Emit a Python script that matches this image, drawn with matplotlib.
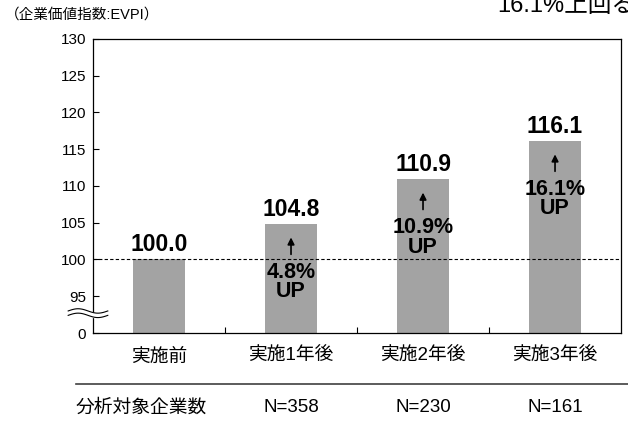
import numpy as np
import matplotlib
matplotlib.use("Agg")
import matplotlib.pyplot as plt
from matplotlib.lines import Line2D
from matplotlib.transforms import blended_transform_factory

plt.rcParams['font.family'] = ['Liberation Sans', 'Noto Sans CJK JP', 'DejaVu Sans']

# EVPI before and after implementation
periods = ['実施前', '実施1年後', '実施2年後', '実施3年後']
evpi = [100.0, 104.8, 110.9, 116.1]
rise = [None, '4.8%', '10.9%', '16.1%']
n_firms = ['N=358', 'N=230', 'N=161']
yticks = [90, 95, 100, 105, 110, 115, 120, 125, 130]
ytick_labels = ['0', '95', '100', '105', '110', '115', '120', '125', '130']

fig = plt.figure(figsize=(6.28, 4.22), dpi=100)
ax = fig.add_axes([0.1481, 0.2109, 0.8408, 0.6967])

x = np.arange(len(periods)) + 0.5
ax.bar(x, [v - 90 for v in evpi], bottom=90, width=0.4, color='#a3a3a3', zorder=2)
ax.axhline(100, color='black', lw=0.8, ls=(0, (3, 2)), zorder=3)

ax.set_xlim(0, 4)
ax.set_ylim(90, 130)
ax.set_yticks(yticks)
ax.set_yticklabels(ytick_labels, fontsize=11)
ax.tick_params(axis='y', direction='in', length=4, width=0.8, pad=5)
ax.set_xticks(x)
ax.set_xticklabels(periods, fontsize=13.5)
ax.tick_params(axis='x', length=0, pad=11)
ax.set_xticks([1, 2, 3], minor=True)
ax.tick_params(axis='x', which='minor', direction='in', length=4, width=0.8)
for s in ax.spines.values():
    s.set_linewidth(0.9)

for xi, v, r in zip(x, evpi, rise):
    ax.text(xi, v + 1.1, f'{v:.1f}', ha='center', va='baseline',
            fontsize=16.5, fontweight='bold', zorder=4)
    if r is None:
        continue
    ax.annotate('', xy=(xi, v - 1.8), xytext=(xi, v - 4.1),
                arrowprops=dict(arrowstyle='-|>', color='black', lw=1.2,
                                mutation_scale=10, shrinkA=0, shrinkB=0),
                zorder=4)
    ax.text(xi, v - 5.1, f'{r}\nUP', ha='center', va='top', fontsize=15.5,
            fontweight='bold', linespacing=0.92, zorder=4)

# axis break mark on the y axis
bt = blended_transform_factory(ax.transAxes, ax.transData)
wx = np.linspace(-0.047, 0.028, 60)
wave = 0.3 * np.sin(2 * np.pi * (wx - wx[0]) / (wx[-1] - wx[0]))
ax.fill_between(wx, 92.4 + wave, 93.0 + wave, color='white', transform=bt,
                clip_on=False, zorder=5)
ax.plot(wx, 92.4 + wave, color='black', lw=0.8, transform=bt, clip_on=False, zorder=6)
ax.plot(wx, 93.0 + wave, color='black', lw=0.8, transform=bt, clip_on=False, zorder=6)

# number of companies row
fig.add_artist(Line2D([76 / 628, 1.0], [1 - 384 / 422, 1 - 384 / 422],
                      color='#404040', lw=1.2))
fig.text(76 / 628, 1 - 408 / 422, '分析対象企業数', ha='left', va='center', fontsize=13.5)
nt = blended_transform_factory(ax.transData, fig.transFigure)
for xi, n in zip(x[1:], n_firms):
    ax.text(xi, 1 - 408 / 422, n, ha='center', va='center', fontsize=13.5,
            transform=nt, clip_on=False)

fig.text(5 / 628, 1 - 15 / 422, '（企業価値指数:EVPI）', ha='left', va='center', fontsize=10.5)
fig.text(497 / 628, 1 - 12 / 422, '16.1%上回る', ha='left', va='baseline', fontsize=17)

fig.savefig('out.png', dpi=100)
